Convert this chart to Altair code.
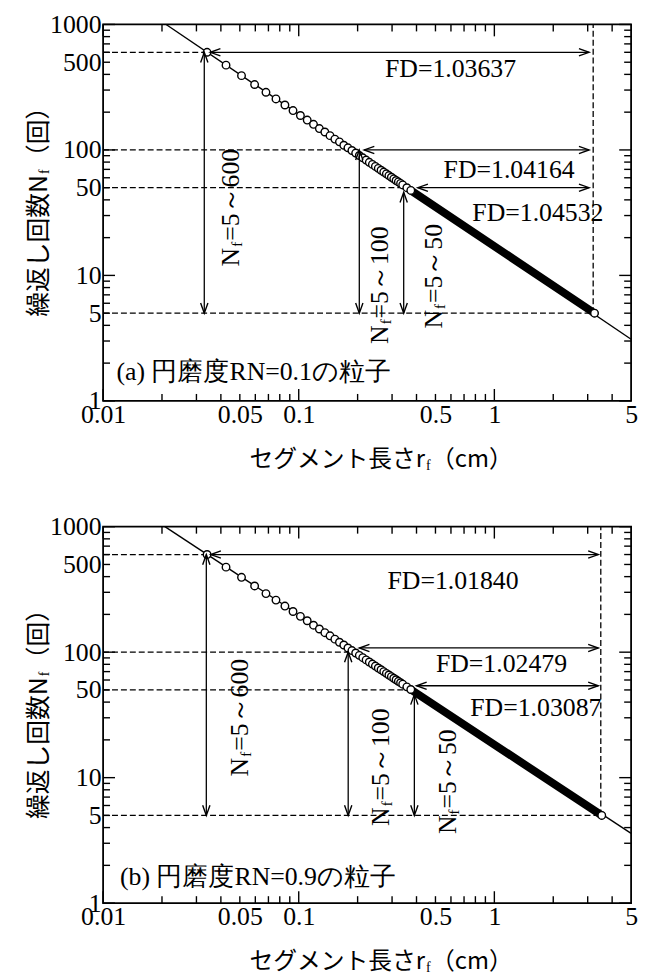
import altair as alt
import pandas as pd

# ---------------- axis label / tick values ----------------
x_label_vals = [0.01, 0.05, 0.1, 0.5, 1, 5]
y_label_vals = [1, 5, 10, 50, 100, 500, 1000]
x_major_ticks = [0.01, 0.1, 1]
x_minor_ticks = [0.02, 0.03, 0.04, 0.05, 0.06, 0.07, 0.08, 0.09,
                 0.2, 0.3, 0.4, 0.5, 0.6, 0.7, 0.8, 0.9, 2, 3, 4]
y_major_ticks = [1, 10, 100, 1000]
y_minor_ticks = [2, 3, 4, 5, 6, 7, 8, 9, 20, 30, 40, 50, 60, 70, 80, 90,
                 200, 300, 400, 500, 600, 700, 800, 900]

# ---------------- panel (a): RN = 0.1 ----------------
a_r = [0.034, 0.0425, 0.051, 0.0595, 0.068, 0.0765, 0.085, 0.0935, 0.102, 0.1105,
       0.119, 0.1275, 0.136, 0.1445, 0.153, 0.1615, 0.17, 0.1785, 0.187, 0.1955,
       0.204, 0.2125, 0.221, 0.2295, 0.238, 0.2465, 0.255, 0.2635, 0.272, 0.2805,
       0.289, 0.2975, 0.306, 0.3145, 0.323, 0.3315, 0.34, 0.357, 0.374, 3.25]
a_n = [600, 474, 391, 332, 288, 255, 228, 206, 188, 173,
       160, 148, 139, 130, 122, 116, 109, 104, 99, 94.4,
       90.3, 86.5, 83.0, 79.7, 76.7, 73.9, 71.3, 68.9, 66.6, 64.5,
       62.5, 60.6, 58.8, 57.1, 55.6, 54.1, 52.6, 50.0, 47.6, 5.0]
a_band_r = [0.374, 3.25]
a_band_n = [47.6, 5.0]
a_fit_r = [0.021, 5.0]
a_fit_n = [1000, 3.1]
a_hdash_y = [600, 100, 50, 5]
a_hdash_x = [0.033, 0.204, 0.344, 3.25]
a_vdash_x = [3.2]
a_harrow_y = [600, 100, 50]
a_harrow_x1 = [0.0353, 0.216, 0.406]
a_harrow_x2 = [3.05, 3.05, 3.05]
a_varrow_x = [0.0329, 0.204, 0.344]
a_varrow_top = [600, 100, 46]
a_varrow_bot = [5, 5, 5]
a_fd_text = ["FD=1.03637", "FD=1.04164", "FD=1.04532"]
a_fd_r = [0.597, 1.19, 1.67]
a_fd_n = [437, 69.7, 31.6]
a_rot_text = ["=5～600", "=5～100", "=5～50"]
a_rot_r = [0.0451, 0.26, 0.49]
a_rot_n = [16.6, 4.0, 5.3]
a_label = "(a) 円磨度RN=0.1の粒子"
a_label_r = 0.0117
a_label_n = 1.7

# ---------------- panel (b): RN = 0.9 ----------------
b_r = [0.034, 0.0425, 0.051, 0.0595, 0.068, 0.0765, 0.085, 0.0935, 0.102, 0.1105,
       0.119, 0.1275, 0.136, 0.1445, 0.153, 0.1615, 0.17, 0.1785, 0.187, 0.1955,
       0.204, 0.2125, 0.221, 0.2295, 0.238, 0.2465, 0.255, 0.2635, 0.272, 0.2805,
       0.289, 0.2975, 0.306, 0.3145, 0.323, 0.3315, 0.34, 0.357, 0.374, 3.54]
b_n = [600, 476, 395, 337, 293, 260, 233, 211, 193, 178,
       164, 153, 143, 135, 127, 120, 114, 108, 103, 98.5,
       94.3, 90.4, 86.8, 83.5, 80.4, 77.5, 74.8, 72.4, 70.0, 67.8,
       65.8, 63.8, 62.0, 60.3, 58.6, 57.1, 55.6, 52.9, 50.4, 5.0]
b_band_r = [0.374, 3.54]
b_band_n = [50.4, 5.0]
b_fit_r = [0.0207, 5.0]
b_fit_n = [1000, 3.6]
b_hdash_y = [600, 100, 50, 5]
b_hdash_x = [0.0337, 0.18, 0.39, 3.54]
b_vdash_x = [3.5]
b_harrow_y = [600, 108, 54]
b_harrow_x1 = [0.0355, 0.204, 0.40]
b_harrow_x2 = [3.4, 3.4, 3.4]
b_varrow_x = [0.0337, 0.179, 0.39]
b_varrow_top = [600, 100, 46]
b_varrow_bot = [5, 5, 5]
b_fd_text = ["FD=1.01840", "FD=1.02479", "FD=1.03087"]
b_fd_r = [0.615, 1.087, 1.63]
b_fd_n = [366, 80.3, 36]
b_rot_text = ["=5～600", "=5～100", "=5～50"]
b_rot_r = [0.050, 0.265, 0.58]
b_rot_n = [14.4, 5.8, 5.0]
b_label = "(b) 円磨度RN=0.9の粒子"
b_label_r = 0.0122
b_label_n = 1.61

# ---------------- styling ----------------
W, H = 533, 380
SERIF = "Liberation Serif"
SANS = "Noto Sans CJK JP"
HEAD_L = "M1,-0.36L0,0L1,0.36"
HEAD_R = "M-1,-0.36L0,0L-1,0.36"
HEAD_U = "M-0.36,1L0,0L0.36,1"
HEAD_D = "M-0.36,-1L0,0L0.36,-1"


def panel(circ_r, circ_n, band_r, band_n, fit_r, fit_n, hdash_y, hdash_x, vdash_x,
          harrow_y, harrow_x1, harrow_x2, varrow_x, varrow_top, varrow_bot,
          fd_text, fd_r, fd_n, rot_text, rot_r, rot_n, label, label_r, label_n, title_dy):
    xs = alt.Scale(type="log", domain=[0.01, 5], nice=False)
    ys = alt.Scale(type="log", domain=[1, 1000], nice=False)
    xaxis = alt.Axis(values=x_label_vals, format="~g", ticks=False, domain=False, grid=False,
                     labelFont=SERIF, labelFontSize=26, labelColor="black", labelPadding=1,
                     labelFlush=False, labelOverlap=False, title=None)
    yaxis = alt.Axis(values=y_label_vals, format="~g", ticks=False, domain=False, grid=False,
                     labelFont=SERIF, labelFontSize=26, labelColor="black", labelPadding=2,
                     labelOverlap=False, title=None)

    def X(f):
        return alt.X(f, type="quantitative", scale=xs, axis=xaxis)

    def Y(f):
        return alt.Y(f, type="quantitative", scale=ys, axis=yaxis)

    layers = []
    # fit line
    layers.append(alt.Chart(pd.DataFrame({"r": fit_r, "n": fit_n})).mark_line(
        color="black", strokeWidth=1.4).encode(x=X("r"), y=Y("n")))

    # inward ticks on four sides
    for vals, ln in ((x_major_ticks, 12), (x_minor_ticks, 7)):
        df = pd.DataFrame({"v": vals})
        layers.append(alt.Chart(df).mark_rule(color="black", strokeWidth=1.4).encode(
            x=X("v"), y=alt.value(H), y2=alt.value(H - ln)))
        layers.append(alt.Chart(df).mark_rule(color="black", strokeWidth=1.4).encode(
            x=X("v"), y=alt.value(0), y2=alt.value(ln)))
    for vals, ln in ((y_major_ticks, 12), (y_minor_ticks, 7)):
        df = pd.DataFrame({"v": vals})
        layers.append(alt.Chart(df).mark_rule(color="black", strokeWidth=1.4).encode(
            y=Y("v"), x=alt.value(0), x2=alt.value(ln)))
        layers.append(alt.Chart(df).mark_rule(color="black", strokeWidth=1.4).encode(
            y=Y("v"), x=alt.value(W), x2=alt.value(W - ln)))

    # dashed guide lines
    hd = pd.DataFrame({"y": hdash_y, "x1": [0.01] * len(hdash_y), "x2": hdash_x})
    layers.append(alt.Chart(hd).mark_rule(color="black", strokeWidth=1.3, strokeDash=[6, 3]).encode(
        x=X("x1"), x2="x2", y=Y("y")))
    vd = pd.DataFrame({"x": vdash_x, "y1": [5] * len(vdash_x), "y2": [1000] * len(vdash_x)})
    layers.append(alt.Chart(vd).mark_rule(color="black", strokeWidth=1.3, strokeDash=[6, 3]).encode(
        x=X("x"), y=Y("y1"), y2="y2"))

    # dense band of overlapping circles
    layers.append(alt.Chart(pd.DataFrame({"r": band_r, "n": band_n})).mark_line(
        color="black", strokeWidth=8, strokeCap="round").encode(x=X("r"), y=Y("n")))

    # circles
    layers.append(alt.Chart(pd.DataFrame({"r": circ_r, "n": circ_n})).mark_point(
        shape="circle", filled=True, fill="white", stroke="black", strokeWidth=1.4,
        size=58, opacity=1).encode(x=X("r"), y=Y("n")))

    # arrows
    ha = pd.DataFrame({"y": harrow_y, "x1": harrow_x1, "x2": harrow_x2})
    layers.append(alt.Chart(ha).mark_rule(color="black", strokeWidth=1.3).encode(
        x=X("x1"), x2="x2", y=Y("y")))
    va = pd.DataFrame({"x": varrow_x, "y1": varrow_top, "y2": varrow_bot})
    layers.append(alt.Chart(va).mark_rule(color="black", strokeWidth=1.3).encode(
        x=X("x"), y=Y("y1"), y2="y2"))
    heads = pd.concat([
        pd.DataFrame({"x": harrow_x1, "y": harrow_y, "s": [HEAD_L] * len(harrow_y)}),
        pd.DataFrame({"x": harrow_x2, "y": harrow_y, "s": [HEAD_R] * len(harrow_y)}),
        pd.DataFrame({"x": varrow_x, "y": varrow_top, "s": [HEAD_U] * len(varrow_x)}),
        pd.DataFrame({"x": varrow_x, "y": varrow_bot, "s": [HEAD_D] * len(varrow_x)}),
    ])
    layers.append(alt.Chart(heads).mark_point(filled=False, color="black", strokeWidth=1.4,
                                              size=420, opacity=1).encode(
        x=X("x"), y=Y("y"), shape=alt.Shape("s:N", scale=None)))

    # FD labels
    layers.append(alt.Chart(pd.DataFrame({"t": fd_text, "r": fd_r, "n": fd_n})).mark_text(
        font=SERIF, fontSize=26, color="black", align="center", baseline="middle").encode(
        x=X("r"), y=Y("n"), text="t:N"))

    # rotated N_f labels
    rd = pd.DataFrame({"t": rot_text, "r": rot_r, "n": rot_n,
                       "N": ["N"] * len(rot_r), "f": ["f"] * len(rot_r)})
    layers.append(alt.Chart(rd).mark_text(font=SERIF, fontSize=26, color="black", angle=270,
                                          align="right", baseline="middle").encode(
        x=X("r"), y=Y("n"), text="N:N"))
    layers.append(alt.Chart(rd).mark_text(font=SERIF, fontSize=15, color="black", angle=270,
                                          align="left", baseline="middle", dx=1, dy=6).encode(
        x=X("r"), y=Y("n"), text="f:N"))
    layers.append(alt.Chart(rd).mark_text(font=SERIF, fontSize=26, color="black", angle=270,
                                          align="left", baseline="middle", dx=7).encode(
        x=X("r"), y=Y("n"), text="t:N"))

    # panel label
    layers.append(alt.Chart(pd.DataFrame({"t": [label], "r": [label_r], "n": [label_n]})).mark_text(
        font=SERIF, fontSize=26, color="black", align="left", baseline="middle").encode(
        x=X("r"), y=Y("n"), text="t:N"))

    # axis titles (with subscript f)
    one = pd.DataFrame({"a": ["セグメント長さr"], "b": ["f"], "c": ["（cm）"],
                        "d": ["繰返し回数N"], "e": ["f"], "g": ["（回）"]})
    tx, ty = 325, H + title_dy
    layers.append(alt.Chart(one).mark_text(font=SANS, fontSize=24, color="black", align="right",
                                           baseline="middle").encode(
        x=alt.value(tx), y=alt.value(ty), text="a:N"))
    layers.append(alt.Chart(one).mark_text(font=SERIF, fontSize=14, color="black", align="left",
                                           baseline="middle", dx=1, dy=6).encode(
        x=alt.value(tx), y=alt.value(ty), text="b:N"))
    layers.append(alt.Chart(one).mark_text(font=SANS, fontSize=24, color="black", align="left",
                                           baseline="middle", dx=6).encode(
        x=alt.value(tx), y=alt.value(ty), text="c:N"))
    yx, yy = -65, 152
    layers.append(alt.Chart(one).mark_text(font=SANS, fontSize=25, color="black", align="right",
                                           baseline="middle", angle=270).encode(
        x=alt.value(yx), y=alt.value(yy), text="d:N"))
    layers.append(alt.Chart(one).mark_text(font=SERIF, fontSize=14, color="black", align="left",
                                           baseline="middle", angle=270, dx=1, dy=6).encode(
        x=alt.value(yx), y=alt.value(yy), text="e:N"))
    layers.append(alt.Chart(one).mark_text(font=SANS, fontSize=25, color="black", align="left",
                                           baseline="middle", angle=270, dx=6).encode(
        x=alt.value(yx), y=alt.value(yy), text="g:N"))

    return alt.layer(*layers).properties(width=W, height=H)


top = panel(a_r, a_n, a_band_r, a_band_n, a_fit_r, a_fit_n, a_hdash_y, a_hdash_x, a_vdash_x,
            a_harrow_y, a_harrow_x1, a_harrow_x2, a_varrow_x, a_varrow_top, a_varrow_bot,
            a_fd_text, a_fd_r, a_fd_n, a_rot_text, a_rot_r, a_rot_n, a_label, a_label_r, a_label_n, 60)
bottom = panel(b_r, b_n, b_band_r, b_band_n, b_fit_r, b_fit_n, b_hdash_y, b_hdash_x, b_vdash_x,
               b_harrow_y, b_harrow_x1, b_harrow_x2, b_varrow_x, b_varrow_top, b_varrow_bot,
               b_fd_text, b_fd_r, b_fd_n, b_rot_text, b_rot_r, b_rot_n, b_label, b_label_r, b_label_n, 60)

chart = alt.vconcat(top, bottom, spacing=39).properties(
    padding={"left": 18, "top": -2, "right": 2, "bottom": 0},
    background="white"
).configure_view(stroke="black", strokeWidth=1.8)

chart.save("out.html", embed_options={"renderer": "svg", "actions": False})
